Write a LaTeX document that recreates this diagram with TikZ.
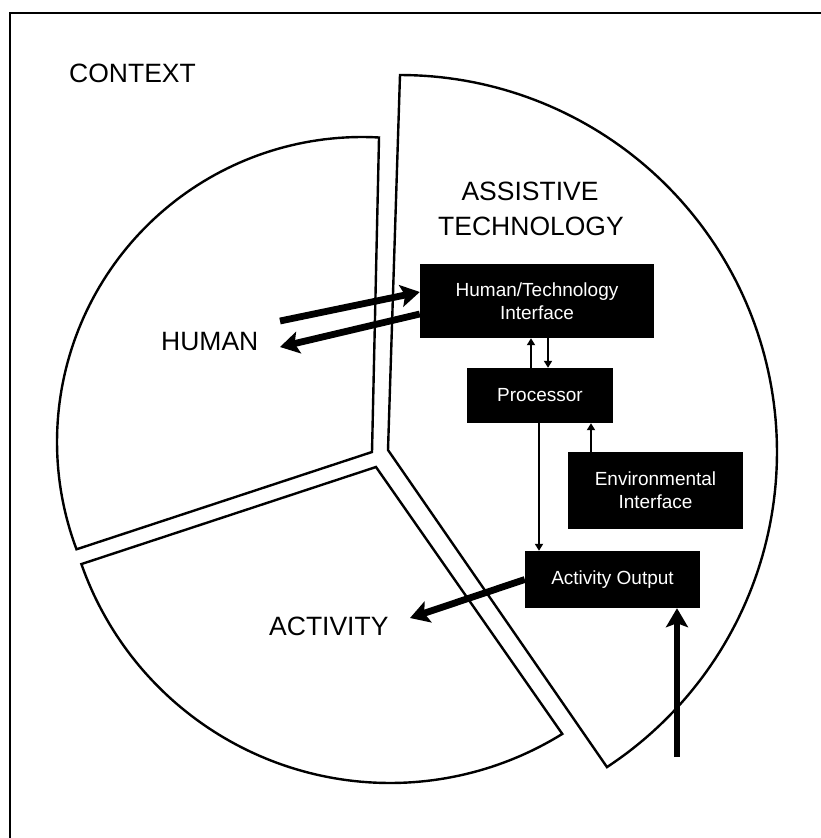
\documentclass[tikz,border=0pt]{standalone}
\usepackage{fontspec}
\setmainfont{Liberation Sans}
\usetikzlibrary{arrows.meta}
\begin{document}
\begin{tikzpicture}[x=1pt,y=-1pt,
  sector/.style={draw=black, line width=2.4pt, line join=miter},
  blk/.style={fill=black, text=white, inner sep=0pt, font=\fontsize{19}{23}\selectfont, align=center},
  lbl/.style={font=\fontsize{26.5}{33}\selectfont, inner sep=0pt},
  thinarr/.style={line width=1.8pt, -{Triangle[length=7pt,width=8pt]}},
  thickarr/.style={line width=6.8pt, -{Stealth[length=19pt,width=22pt,inset=4pt]}}]
\useasboundingbox (0,0) rectangle (820,838);
% frame
\draw[line width=2.6pt] (10,850) -- (10,13) -- (830,13);
% human sector
\coordinate (hA) at (372,452);
\draw[sector] (hA) -- plot[domain=86.8:200.6, samples=90, variable=\t] ({362+305*cos(\t)},{442-305*sin(\t)}) -- cycle;
% activity sector
\coordinate (aA) at (376,467);
\draw[sector] (aA) -- plot[domain=199.3:301.8, samples=90, variable=\t] ({390+327*cos(\t)},{456-327*sin(\t)}) -- cycle;
% assistive technology sector
\coordinate (tA) at (388,450);
\draw[sector] (tA) -- plot[domain=90:-56.7, samples=120, variable=\t] ({400+377*cos(\t)},{452-377*sin(\t)}) -- cycle;
% labels
\node[lbl, anchor=base west] (ctx) at (69,82) {CONTEXT};
\node[lbl, anchor=base west] (hum) at (161,350) {HUMAN};
\node[lbl, anchor=base west] (act) at (269,635) {ACTIVITY};
\node[lbl, anchor=base] (at1) at (530,200) {ASSISTIVE};
\node[lbl, anchor=base] (at2) at (531,235) {TECHNOLOGY};
% boxes
\node[blk, minimum width=234pt, minimum height=74pt] (hti) at (537,301) {Human/Technology\\Interface};
\node[blk, minimum width=146pt, minimum height=55pt] (proc) at (540,395.5) {Processor};
\node[blk, minimum width=175pt, minimum height=77pt] (ei) at (655.5,490.5) {Environmental\\Interface};
\node[blk, minimum width=175pt, minimum height=57pt] (ao) at (612.5,579.5) {Activity Output};
% thin arrows
\draw[thinarr] ([xshift=-9pt]proc.north) -- ([xshift=-9pt]proc.north |- hti.south);
\draw[thinarr] ([xshift=8pt]proc.north |- hti.south) -- ([xshift=8pt]proc.north);
\draw[thinarr] ([xshift=-1pt]proc.south) -- ([xshift=-1pt]proc.south |- ao.north);
\draw[thinarr] ([xshift=-64.5pt]ei.north) -- ([xshift=-64.5pt]ei.north |- proc.south);
% thick arrows
\coordinate (hs) at (280,321);
\coordinate (he) at (280,347);
\draw[thickarr] (hs) -- ([yshift=9pt]hti.west);
\draw[thickarr] ([yshift=-13pt]hti.west) -- (he);
\coordinate (ae) at (410,618);
\draw[thickarr] (ao.west) -- (ae);
\coordinate (bs) at (677,757);
\draw[thickarr] (bs) -- (bs |- ao.south);
\end{tikzpicture}
\end{document}
